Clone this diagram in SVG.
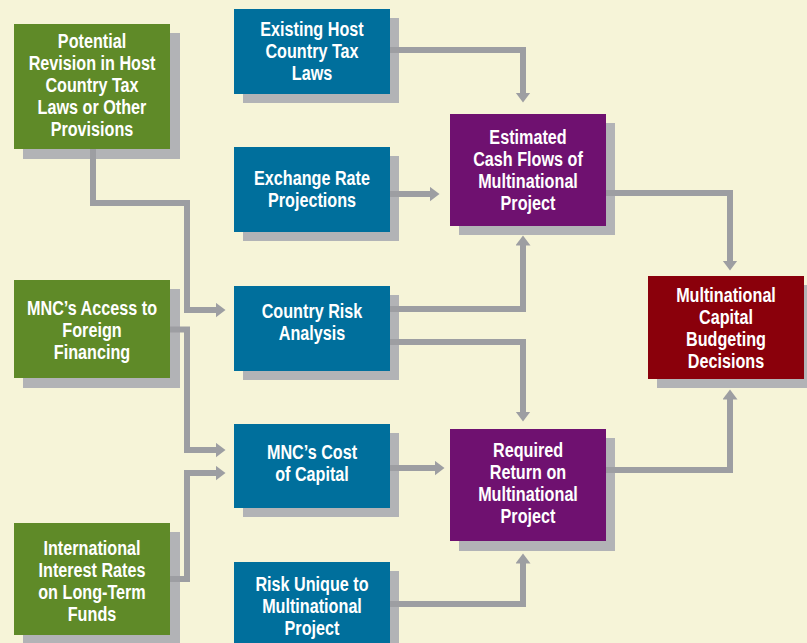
<svg xmlns="http://www.w3.org/2000/svg" width="807" height="643" viewBox="0 0 807 643">
<defs>
<style>
.sh{fill:#b2b3b6}
.g{fill:#5f8a28}
.b{fill:#006f9c}
.p{fill:#6f1170}
.r{fill:#8a000b}
.c{fill:none;stroke:#9d9ea2;stroke-width:6;stroke-linejoin:miter;stroke-linecap:butt}
.t{font-family:"Liberation Sans",Arial,sans-serif;font-weight:bold;font-size:19.5px;fill:#ffffff;text-anchor:middle}
</style>
<marker id="ah" markerUnits="userSpaceOnUse" markerWidth="11" markerHeight="16" refX="0.5" refY="7.5" orient="auto">
<path d="M0,0 L10,7.5 L0,15 Z" fill="#9d9ea2"/>
</marker>
</defs>
<rect width="807" height="643" fill="#f6f4d8"/>
<g id="shadows">
<rect class="sh" x="23" y="33" width="157" height="126"/>
<rect class="sh" x="23" y="289" width="157" height="99"/>
<rect class="sh" x="23" y="532" width="157" height="113"/>
<rect class="sh" x="243" y="18" width="156" height="85"/>
<rect class="sh" x="243" y="156" width="156" height="85"/>
<rect class="sh" x="243" y="295" width="156" height="85"/>
<rect class="sh" x="243" y="433" width="156" height="84"/>
<rect class="sh" x="243" y="571" width="156" height="85"/>
<rect class="sh" x="459" y="123" width="156" height="112"/>
<rect class="sh" x="459" y="438" width="156" height="113"/>
<rect class="sh" x="657" y="285" width="156" height="103"/>
</g>
<g id="connectors">
<path class="c" d="M390,50 H523 V93" marker-end="url(#ah)"/>
<path class="c" d="M390,194 H430" marker-end="url(#ah)"/>
<path class="c" d="M93,149 V203 H187 V310 H216" marker-end="url(#ah)"/>
<path class="c" d="M390,309 H523 V245" marker-end="url(#ah)"/>
<path class="c" d="M390,342 H523 V412" marker-end="url(#ah)"/>
<path class="c" d="M170,329.5 H187 V450 H216" marker-end="url(#ah)"/>
<path class="c" d="M170,579 H187 V473 H216" marker-end="url(#ah)"/>
<path class="c" d="M390,468 H435" marker-end="url(#ah)"/>
<path class="c" d="M390,604 H523 V563" marker-end="url(#ah)"/>
<path class="c" d="M606,193 H730 V261" marker-end="url(#ah)"/>
<path class="c" d="M606,470 H730 V399" marker-end="url(#ah)"/>
</g>
<g id="n-potential-revision">
<rect class="g" x="14" y="24" width="156" height="125"/>
<text class="t" transform="translate(92,0) scale(0.83,1)"><tspan x="0" y="48">Potential</tspan><tspan x="0" y="70">Revision in Host</tspan><tspan x="0" y="92">Country Tax</tspan><tspan x="0" y="114">Laws or Other</tspan><tspan x="0" y="136">Provisions</tspan></text>
</g>
<g id="n-access-financing">
<rect class="g" x="14" y="280" width="156" height="98"/>
<text class="t" transform="translate(92,0) scale(0.83,1)"><tspan x="0" y="315">MNC’s Access to</tspan><tspan x="0" y="337">Foreign</tspan><tspan x="0" y="359">Financing</tspan></text>
</g>
<g id="n-interest-rates">
<rect class="g" x="14" y="523" width="156" height="112"/>
<text class="t" transform="translate(92,0) scale(0.83,1)"><tspan x="0" y="555">International</tspan><tspan x="0" y="577">Interest Rates</tspan><tspan x="0" y="599">on Long-Term</tspan><tspan x="0" y="621">Funds</tspan></text>
</g>
<g id="n-existing-tax">
<rect class="b" x="234" y="9" width="156" height="85"/>
<text class="t" transform="translate(312,0) scale(0.83,1)"><tspan x="0" y="36">Existing Host</tspan><tspan x="0" y="58">Country Tax</tspan><tspan x="0" y="80">Laws</tspan></text>
</g>
<g id="n-exchange-rate">
<rect class="b" x="234" y="147" width="156" height="85"/>
<text class="t" transform="translate(312,0) scale(0.83,1)"><tspan x="0" y="185">Exchange Rate</tspan><tspan x="0" y="207">Projections</tspan></text>
</g>
<g id="n-country-risk">
<rect class="b" x="234" y="286" width="156" height="85"/>
<text class="t" transform="translate(312,0) scale(0.83,1)"><tspan x="0" y="318">Country Risk</tspan><tspan x="0" y="340">Analysis</tspan></text>
</g>
<g id="n-cost-capital">
<rect class="b" x="234" y="424" width="156" height="84"/>
<text class="t" transform="translate(312,0) scale(0.83,1)"><tspan x="0" y="459">MNC’s Cost</tspan><tspan x="0" y="481">of Capital</tspan></text>
</g>
<g id="n-risk-unique">
<rect class="b" x="234" y="562" width="156" height="86"/>
<text class="t" transform="translate(312,0) scale(0.83,1)"><tspan x="0" y="591">Risk Unique to</tspan><tspan x="0" y="613">Multinational</tspan><tspan x="0" y="635">Project</tspan></text>
</g>
<g id="n-cash-flows">
<rect class="p" x="450" y="114" width="156" height="112"/>
<text class="t" transform="translate(528,0) scale(0.83,1)"><tspan x="0" y="144">Estimated</tspan><tspan x="0" y="166">Cash Flows of</tspan><tspan x="0" y="188">Multinational</tspan><tspan x="0" y="210">Project</tspan></text>
</g>
<g id="n-required-return">
<rect class="p" x="450" y="429" width="156" height="112"/>
<text class="t" transform="translate(528,0) scale(0.83,1)"><tspan x="0" y="457">Required</tspan><tspan x="0" y="479">Return on</tspan><tspan x="0" y="501">Multinational</tspan><tspan x="0" y="523">Project</tspan></text>
</g>
<g id="n-budgeting">
<rect class="r" x="648" y="276" width="156" height="103"/>
<text class="t" transform="translate(726,0) scale(0.83,1)"><tspan x="0" y="302">Multinational</tspan><tspan x="0" y="324">Capital</tspan><tspan x="0" y="346">Budgeting</tspan><tspan x="0" y="368">Decisions</tspan></text>
</g>
</svg>
